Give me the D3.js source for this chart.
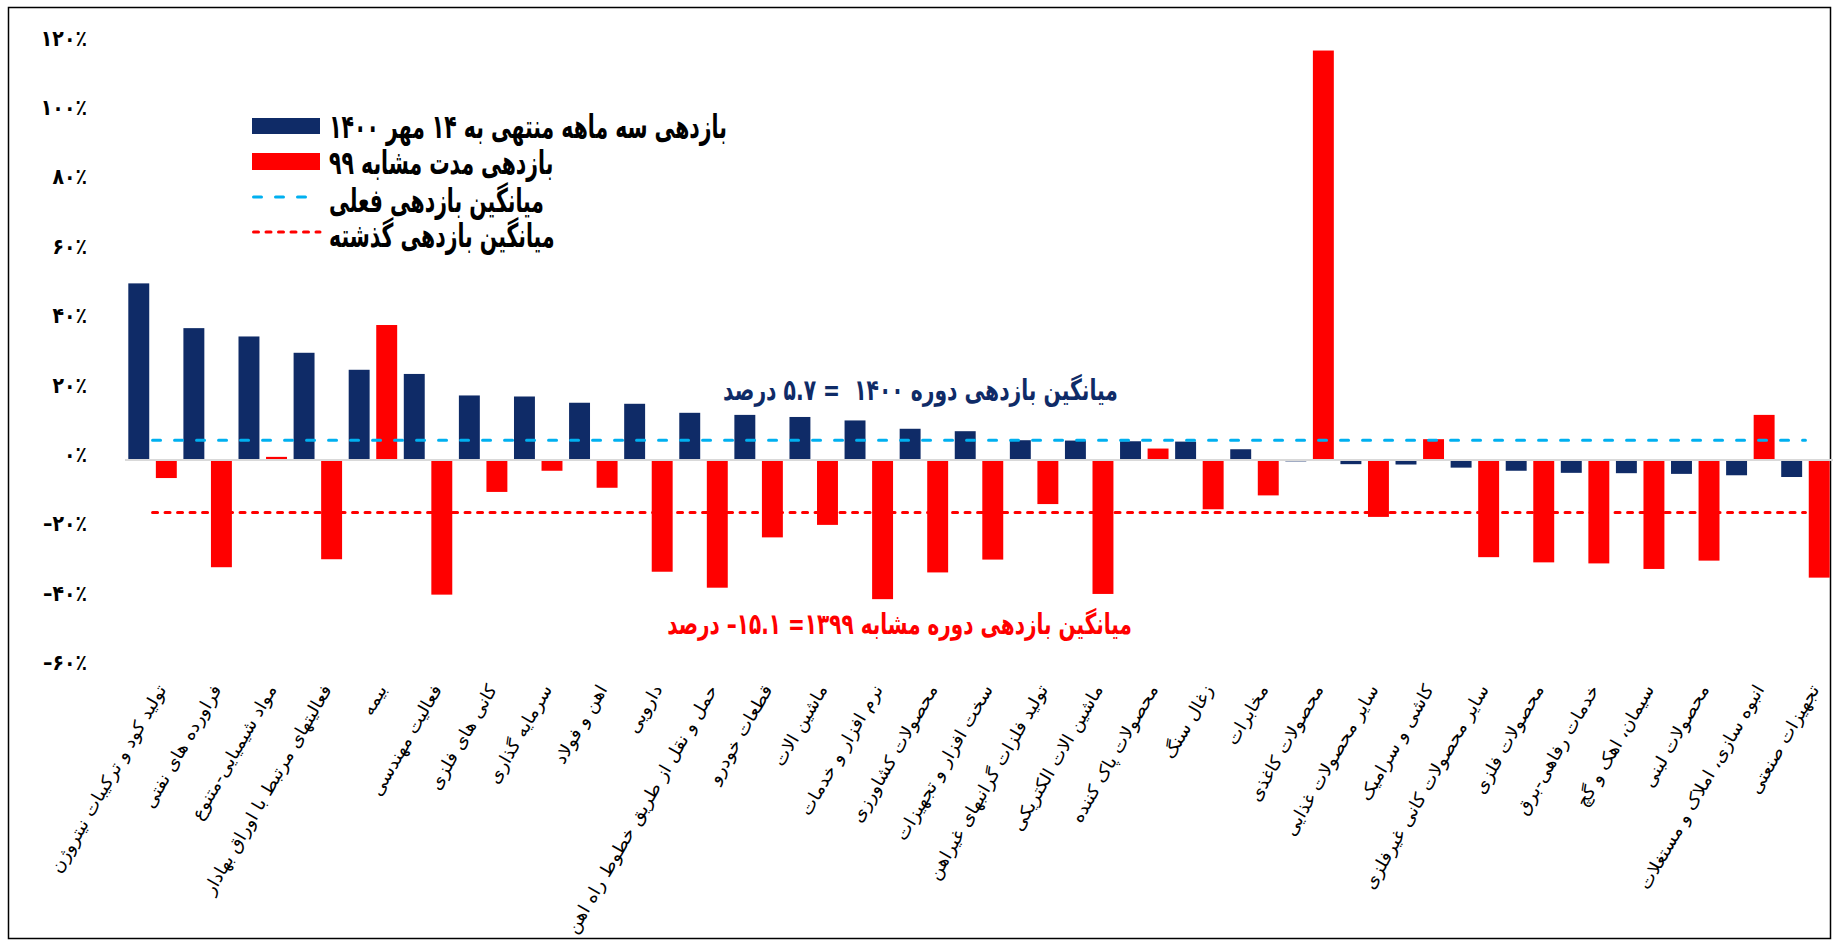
<!DOCTYPE html>
<html><head><meta charset="utf-8">
<script src="https://cdn.jsdelivr.net/npm/d3@7"></script>
<style>
html,body{margin:0;padding:0;background:#fff;}
svg{display:block;}
text{font-family:"DejaVu Sans", sans-serif;}
</style></head><body>
<svg id="chart" width="1833" height="942"></svg>
<script>
// ---------- DATA ----------
const categories = [
  "تولید کود و ترکیبات نیتروژن",
  "فراورده های نفتی",
  "مواد شیمیایی-متنوع",
  "فعالیتهای مرتبط با اوراق بهادار",
  "بیمه",
  "فعالیت مهندسی",
  "کانی های فلزی",
  "سرمایه گذاری",
  "اهن و فولاد",
  "دارویی",
  "حمل و نقل از طریق خطوط راه اهن",
  "قطعات خودرو",
  "ماشین الات",
  "نرم افزار و خدمات",
  "محصولات کشاورزی",
  "سخت افزار و تجهیزات",
  "تولید فلزات گرانبهای غیراهن",
  "ماشین الات الکتریکی",
  "محصولات پاک کننده",
  "زغال سنگ",
  "مخابرات",
  "محصولات کاغذی",
  "سایر محصولات غذایی",
  "کاشی و سرامیک",
  "سایر محصولات کانی غیرفلزی",
  "محصولات فلزی",
  "خدمات رفاهی-برق",
  "سیمان، اهک و گچ",
  "محصولات لبنی",
  "انبوه سازی، املاک و مستغلات",
  "تجهیزات صنعتی"
];
const returns1400 = [50.9, 38.0, 35.6, 30.9, 26.0, 24.8, 18.6, 18.3, 16.5, 16.2,
                     13.6, 13.0, 12.4, 11.4, 9.0, 8.3, 5.7, 5.6, 5.4, 5.3,
                     3.1, -0.4, -1.2, -1.3, -2.2, -3.1, -3.7, -3.8, -4.0, -4.4, -4.9];
const returns1399 = [-5.2, -30.9, 0.9, -28.6, 38.9, -38.8, -9.2, -3.1, -8.0, -32.2,
                     -36.8, -22.3, -18.7, -40.1, -32.4, -28.7, -12.7, -38.6, 3.3, -14.2,
                     -10.2, 118.0, -16.4, 6.0, -28.0, -29.5, -29.8, -31.4, -29.0, 13.0, -33.9];
const avgCurrent = 5.7;
const avgPrevious = -15.1;
const yTickValues = [120, 100, 80, 60, 40, 20, 0, -20, -40, -60];
const legendLabels = [
  "بازدهی سه ماهه منتهی به ۱۴ مهر ۱۴۰۰",
  "بازدهی مدت مشابه ۹۹",
  "میانگین بازدهی فعلی",
  "میانگین بازدهی گذشته"
];
const noteCurrent = "میانگین بازدهی دوره ۱۴۰۰  = ۵.۷ درصد";
const notePrevious = "میانگین بازدهی دوره مشابه ۱۳۹۹= ۱۵.۱– درصد";

// ---------- STYLE ----------
const NAVY = "#0F2B67", RED = "#FF0000", LIGHTBLUE = "#00B0F0", AXIS = "#D9D9D9";

const svg = d3.select("#chart");
const faDigits = s => String(s).replace(/\d/g, d => "۰۱۲۳۴۵۶۷۸۹"[d]);

const x = d3.scaleBand().domain(categories).range([125, 1833]).paddingInner(0).paddingOuter(0);
const xs = d3.scaleBand().domain(["cur", "prev"]).range([0, x.bandwidth()]).paddingInner(0.24).paddingOuter(0.12);
const y = d3.scaleLinear().domain([-60, 120]).range([668.2, 43.6]);

// frame
svg.append("rect").attr("x", 8.5).attr("y", 7.5).attr("width", 1822).attr("height", 931)
  .attr("fill", "none").attr("stroke", "#000").attr("stroke-width", 1.5);

// bars
const rows = categories.map((c, i) => ({c, cur: returns1400[i], prev: returns1399[i]}));
const barG = svg.append("g");
[["cur", NAVY], ["prev", RED]].forEach(([key, col]) => {
  barG.selectAll("rect." + key).data(rows).join("rect")
    .attr("class", key)
    .attr("x", d => x(d.c) + xs(key))
    .attr("width", xs.bandwidth())
    .attr("y", d => y(Math.max(0, d[key])))
    .attr("height", d => Math.abs(y(d[key]) - y(0)))
    .attr("fill", col);
});

// zero axis line
svg.append("line").attr("x1", 125).attr("x2", 1833).attr("y1", y(0)).attr("y2", y(0))
  .attr("stroke", AXIS).attr("stroke-width", 2);

// average lines
const ends = [categories[0], categories[categories.length - 1]];
const cx = c => x(c) + x.bandwidth() / 2;
svg.append("path").datum(ends)
  .attr("d", d3.line().x(cx).y(() => y(avgCurrent)))
  .attr("stroke", LIGHTBLUE).attr("stroke-width", 3).attr("fill", "none")
  .attr("stroke-dasharray", "8,14").attr("stroke-linecap", "round");
svg.append("path").datum(ends)
  .attr("d", d3.line().x(cx).y(() => y(avgPrevious)))
  .attr("stroke", RED).attr("stroke-width", 3).attr("fill", "none")
  .attr("stroke-dasharray", "5,7.5").attr("stroke-linecap", "round");

// y axis
const yAxis = svg.append("g").attr("transform", "translate(87,0)")
  .call(d3.axisLeft(y).tickValues(yTickValues).tickSize(0).tickPadding(0)
    .tickFormat(v => (v < 0 ? "–" : "") + faDigits(Math.abs(v)) + "٪"));
yAxis.select(".domain").remove();
yAxis.selectAll("text").attr("fill", "#000").attr("font-weight", "bold")
  .style("font-family", '"DejaVu Sans", sans-serif').style("font-size", "22px")
  .attr("dy", null).attr("y", 0).attr("dominant-baseline", "central").attr("direction", "ltr")
  .attr("transform", "translate(0,-6) scale(0.86,1)");

// x axis labels (rotated)
const xAxis = svg.append("g").call(d3.axisBottom(x).tickSize(0));
xAxis.select(".domain").remove();
const xt = xAxis.selectAll("text")
  .attr("fill", "#000").attr("dy", null).attr("y", 0).attr("x", 0)
  .attr("text-anchor", "end").attr("dominant-baseline", "central")
  .style("font-family", '"DejaVu Sans", sans-serif').style("font-size", "17.5px");
(function () {
  const nodes = xt.nodes();
  const L11 = nodes[10].getComputedTextLength();
  const sx = 284 / L11;
  xt.attr("transform", `translate(9,686) rotate(-60) scale(${sx},1)`);
})();

// helper: place text with a given font size, horizontally compressed to target width
function placeText(parent, str, o) {
  const g = parent.append("g");
  const t = g.append("text").text(str)
    .attr("direction", "rtl").style("direction", "rtl").style("white-space", "pre")
    .attr("font-weight", "bold").attr("fill", o.fill).attr("text-anchor", "middle")
    .style("font-size", o.size + "px");
  const L = t.node().getComputedTextLength();
  const sx = o.sx != null ? o.sx : o.width / L;
  const w = L * sx;
  const mid = o.left != null ? o.left + w / 2 : o.cx;
  g.attr("transform", `translate(${mid},${o.baseline}) scale(${sx},1)`);
  return sx;
}

// legend
const lg = svg.append("g");
lg.append("rect").attr("x", 252).attr("y", 118).attr("width", 68).attr("height", 16).attr("fill", NAVY);
lg.append("rect").attr("x", 252).attr("y", 153).attr("width", 68).attr("height", 17).attr("fill", RED);
lg.append("line").attr("x1", 253.5).attr("x2", 310).attr("y1", 197).attr("y2", 197)
  .attr("stroke", LIGHTBLUE).attr("stroke-width", 3).attr("stroke-dasharray", "8,14").attr("stroke-linecap", "round");
lg.append("line").attr("x1", 253.5).attr("x2", 320).attr("y1", 232).attr("y2", 232)
  .attr("stroke", RED).attr("stroke-width", 3).attr("stroke-dasharray", "5,7.5").attr("stroke-linecap", "round");
const legBase = [138, 174, 212, 247];
let legSx = null;
legendLabels.forEach((t, i) => {
  const o = {fill: "#000", size: 33, left: 329, baseline: legBase[i]};
  if (legSx === null) { o.width = 398; legSx = placeText(lg, t, o); }
  else { o.sx = legSx; placeText(lg, t, o); }
});

// annotations
placeText(svg, noteCurrent, {fill: NAVY, size: 29, cx: (723 + 1118) / 2, baseline: 400, width: 395});
placeText(svg, notePrevious, {fill: RED, size: 29, cx: (667 + 1132) / 2, baseline: 634, width: 465});
</script>
</body></html>
